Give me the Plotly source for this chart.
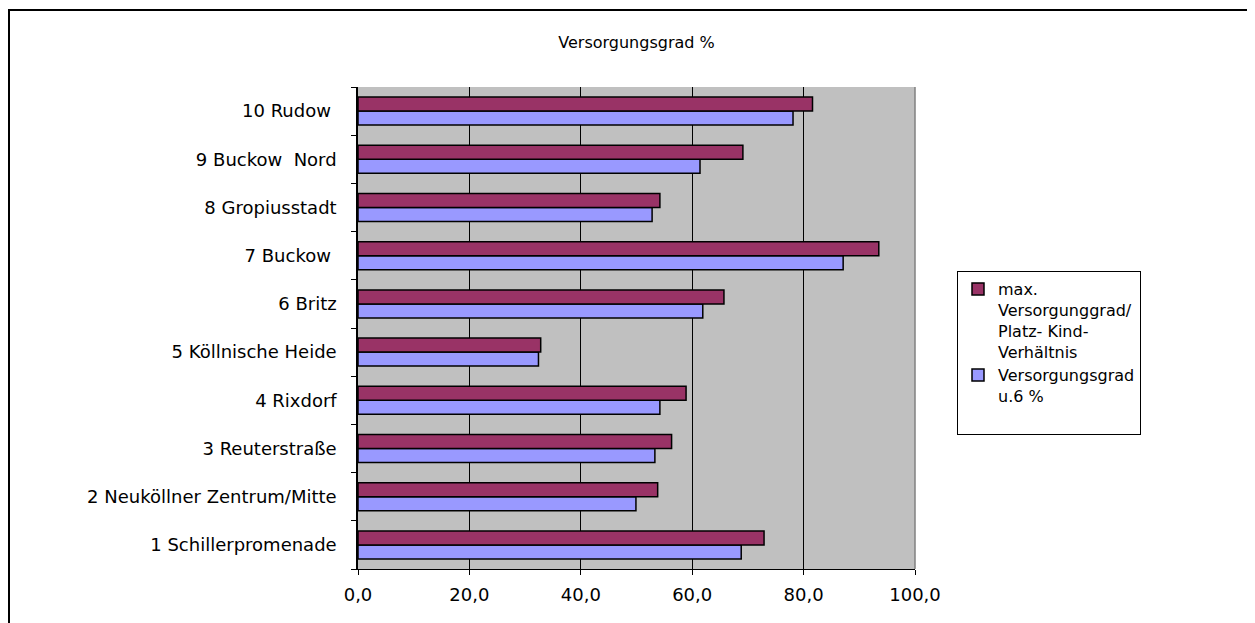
import plotly.graph_objects as go

categories = [
    "1 Schillerpromenade",
    "2 Neuköllner Zentrum/Mitte",
    "3 Reuterstraße",
    "4 Rixdorf",
    "5 Köllnische Heide",
    "6 Britz",
    "7 Buckow ",
    "8 Gropiusstadt",
    "9 Buckow  Nord",
    "10 Rudow ",
]
max_versorgungsgrad = [72.9, 53.8, 56.3, 58.9, 32.8, 65.7, 93.5, 54.2, 69.1, 81.6]
versorgungsgrad_u6 = [68.8, 49.9, 53.3, 54.2, 32.4, 61.9, 87.1, 52.8, 61.4, 78.1]
x_tick_values = [0, 20, 40, 60, 80, 100]
x_tick_labels = ["0,0", "20,0", "40,0", "60,0", "80,0", "100,0"]

name_max = "max.<br>Versorgunggrad/<br>Platz- Kind-<br>Verhältnis"
name_u6 = "Versorgungsgrad<br>u.6 %<br> "

# the page body has an 8px margin; positions below are in figure coordinates
OFF = 8
W, H = 1255 - OFF, 623 - OFF
L, R = 358 - OFF, 915 - OFF
T, B = 87 - OFF, 569 - OFF

fig = go.Figure()
fig.add_trace(go.Bar(
    y=categories, x=versorgungsgrad_u6, orientation="h", name=name_u6,
    marker=dict(color="#9999FF", line=dict(color="black", width=1.5)),
))
fig.add_trace(go.Bar(
    y=categories, x=max_versorgungsgrad, orientation="h", name=name_max,
    marker=dict(color="#993366", line=dict(color="black", width=1.5)),
))

font_family = "DejaVu Sans, Liberation Sans, Arial, sans-serif"

fig.update_layout(
    width=W, height=H,
    margin=dict(l=L, r=W - R, t=T, b=H - B, pad=0),
    paper_bgcolor="white",
    plot_bgcolor="#C0C0C0",
    barmode="group",
    bargap=0.42,
    bargroupgap=0,
    font=dict(family=font_family, size=16, color="black"),
    title=dict(text="Versorgungsgrad %", x=(L + R) / 2 / W, xanchor="center",
               y=1 - (42 - OFF) / H, yanchor="middle", yref="container",
               font=dict(size=16, family=font_family, color="black")),
    showlegend=True,
    legend=dict(
        x=(957 - OFF - L) / (R - L), xanchor="left",
        y=(B - (271 - OFF)) / (B - T), yanchor="top",
        bgcolor="white", bordercolor="black", borderwidth=1,
        traceorder="reversed", valign="top",
        font=dict(size=16, family=font_family),
        tracegroupgap=0,
    ),
    xaxis=dict(
        range=[0, 100],
        tickvals=x_tick_values, ticktext=x_tick_labels,
        showgrid=True, gridcolor="black", gridwidth=1,
        showline=True, linecolor="black", linewidth=1,
        ticks="outside", ticklen=5, tickcolor="black",
        tickfont=dict(size=18, family=font_family),
        ticklabelstandoff=4,
        zeroline=False, fixedrange=True,
    ),
    yaxis=dict(
        type="category",
        categoryorder="array", categoryarray=categories,
        showgrid=False,
        showline=True, linecolor="black", linewidth=1.5,
        ticks="outside", ticklen=5, tickcolor="black",
        tickson="boundaries",
        tickfont=dict(size=18, family=font_family),
        ticklabelstandoff=16,
        zeroline=False, fixedrange=True,
    ),
)

# right border of plot area (gray) and outer chart frame
fig.add_shape(type="line", xref="paper", yref="paper", x0=1, x1=1, y0=0, y1=1,
              line=dict(color="#808080", width=1.5))
fx0 = (1 - L) / (R - L)
fx1 = (W + 20 - L) / (R - L)
fy1 = (B - 2) / (B - T)
fy0 = (B - (H + 20)) / (B - T)
fig.add_shape(type="rect", xref="paper", yref="paper", x0=fx0, x1=fx1, y0=fy0, y1=fy1,
              line=dict(color="black", width=2), fillcolor="rgba(0,0,0,0)", layer="below")

fig.write_html("out.html")
